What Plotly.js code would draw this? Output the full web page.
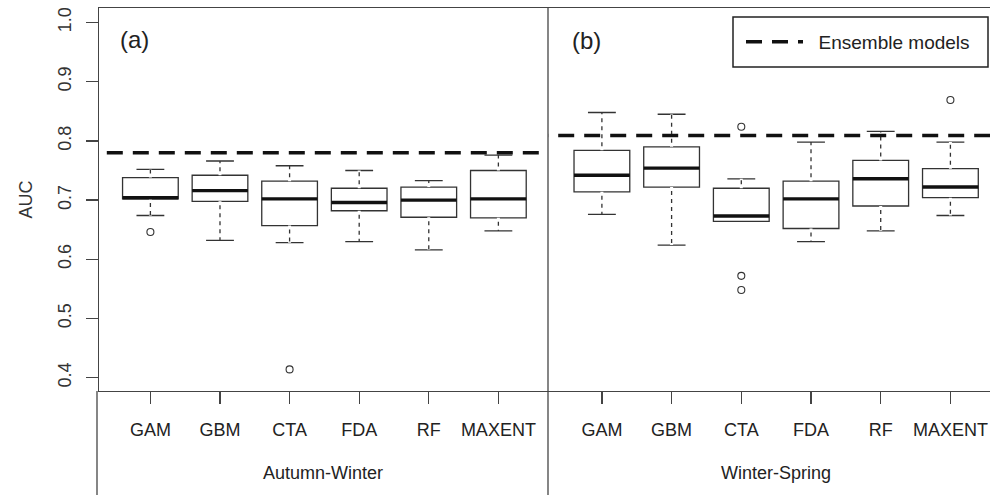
<!DOCTYPE html>
<html>
<head>
<meta charset="utf-8">
<script src="https://cdn.plot.ly/plotly-3.0.1.min.js"></script>
<style>html,body{margin:0;padding:0;background:#fff;}#chart{width:990px;height:495px;}</style>
</head>
<body>
<div id="chart"></div>
<script>
// ---- data ----
const models = ['GAM', 'GBM', 'CTA', 'FDA', 'RF', 'MAXENT'];
const seasons = ['Autumn-Winter', 'Winter-Spring'];

// Autumn-Winter (a)
const awLower  = [0.674, 0.632, 0.628, 0.630, 0.616, 0.648];
const awQ1     = [0.702, 0.698, 0.657, 0.682, 0.671, 0.670];
const awMedian = [0.704, 0.716, 0.702, 0.696, 0.700, 0.702];
const awQ3     = [0.738, 0.742, 0.732, 0.720, 0.722, 0.750];
const awUpper  = [0.752, 0.766, 0.758, 0.750, 0.733, 0.776];
const awOutModel = ['GAM', 'CTA'];
const awOutVal   = [0.646, 0.414];
const awEnsemble = 0.780;

// Winter-Spring (b)
const wsLower  = [0.676, 0.624, 0.664, 0.630, 0.648, 0.674];
const wsQ1     = [0.714, 0.722, 0.664, 0.652, 0.690, 0.704];
const wsMedian = [0.742, 0.754, 0.673, 0.702, 0.736, 0.722];
const wsQ3     = [0.784, 0.790, 0.720, 0.732, 0.767, 0.753];
const wsUpper  = [0.848, 0.845, 0.736, 0.798, 0.816, 0.798];
const wsOutModel = ['CTA', 'CTA', 'CTA', 'MAXENT'];
const wsOutVal   = [0.824, 0.572, 0.548, 0.869];
const wsEnsemble = 0.809;

const yTicks = [0.4, 0.5, 0.6, 0.7, 0.8, 0.9, 1.0];

// ---- helpers ----
const pos = models.map((m, i) => i + 1);
const HALF = 0.4;
const FONT = 'Liberation Sans, Arial, sans-serif';
const LINE = '#333';

function panel(xa, lower, q1, med, q3, upper, outModel, outVal, ens, showLeg) {
  const tr = [];
  tr.push({
    type: 'box', xaxis: xa, yaxis: 'y',
    x: pos, q1: q1, median: med, q3: q3, lowerfence: lower, upperfence: upper,
    width: 2 * HALF, whiskerwidth: 0.5, boxpoints: false,
    fillcolor: '#ffffff', line: {color: LINE, width: 1.3},
    showlegend: false, hoverinfo: 'skip'
  });
  // dashed look of whiskers (white gaps over whisker lines)
  const wx = [], wy = [];
  pos.forEach((p, i) => {
    if (upper[i] > q3[i]) { wx.push(p, p, null); wy.push(q3[i], upper[i], null); }
    if (lower[i] < q1[i]) { wx.push(p, p, null); wy.push(q1[i], lower[i], null); }
  });
  tr.push({
    type: 'scatter', mode: 'lines', xaxis: xa, yaxis: 'y', x: wx, y: wy,
    line: {color: '#ffffff', width: 3, dash: '4px,4px'},
    showlegend: false, hoverinfo: 'skip'
  });
  // thick medians
  const mx = [], my = [];
  pos.forEach((p, i) => { mx.push(p - HALF, p + HALF, null); my.push(med[i], med[i], null); });
  tr.push({
    type: 'scatter', mode: 'lines', xaxis: xa, yaxis: 'y', x: mx, y: my,
    line: {color: '#111', width: 3.4},
    showlegend: false, hoverinfo: 'skip'
  });
  // outliers
  tr.push({
    type: 'scatter', mode: 'markers', xaxis: xa, yaxis: 'y',
    x: outModel.map(m => models.indexOf(m) + 1), y: outVal,
    marker: {symbol: 'circle-open', size: 7, color: LINE, line: {width: 1.1, color: LINE}},
    showlegend: false, hoverinfo: 'skip'
  });
  // ensemble line
  tr.push({
    type: 'scatter', mode: 'lines', xaxis: xa, yaxis: 'y',
    x: [0, models.length + 1], y: [ens, ens],
    name: '\u00a0\u00a0Ensemble models',
    line: {color: '#111', width: 3.5, dash: '16px,10px'},
    showlegend: showLeg, hoverinfo: 'skip'
  });
  return tr;
}

const data = [].concat(
  panel('x', awLower, awQ1, awMedian, awQ3, awUpper, awOutModel, awOutVal, awEnsemble, true),
  panel('x2', wsLower, wsQ1, wsMedian, wsQ3, wsUpper, wsOutModel, wsOutVal, wsEnsemble, false)
);

// ---- layout geometry (pixels -> paper) ----
const W = 990, H = 495, ML = 99, MR = 0, MT = 8, MB = 104;
const PW = W - ML - MR, PH = H - MT - MB;
const px = x => (x - ML) / PW;
const py = y => (H - MB - y) / PH;
const split = px(548);

const xCommon = {
  tickvals: pos, ticktext: models, ticks: 'outside', ticklen: 12, tickwidth: 1.3, tickcolor: '#444',
  showline: true, linecolor: '#444', linewidth: 1.3, mirror: true,
  showgrid: false, zeroline: false, anchor: 'y',
  tickfont: {family: FONT, size: 18, color: '#222'}, ticklabelstandoff: 10
};

const layout = {
  width: W, height: H,
  margin: {l: ML, r: MR, t: MT, b: MB, pad: 0},
  paper_bgcolor: '#ffffff', plot_bgcolor: '#ffffff',
  font: {family: FONT, size: 18, color: '#222'},
  xaxis: Object.assign({}, xCommon, {domain: [0, split], range: [0.2615, 6.713]}),
  xaxis2: Object.assign({}, xCommon, {domain: [split, 1], range: [0.2267, 6.568]}),
  yaxis: {
    domain: [0, 1], range: [0.3775, 1.0245], anchor: 'x',
    tickvals: yTicks, tickformat: '.1f', tickangle: -90,
    ticks: 'outside', ticklen: 12, tickwidth: 1.3, tickcolor: '#444',
    showline: true, linecolor: '#444', linewidth: 1.3, mirror: false,
    showgrid: false, zeroline: false,
    tickfont: {family: FONT, size: 18, color: '#333'}, ticklabelstandoff: 8
  },
  showlegend: true,
  legend: {
    x: px(741), xanchor: 'left', y: py(42), yanchor: 'middle',
    bgcolor: 'rgba(0,0,0,0)', borderwidth: 0, itemwidth: 57,
    font: {family: FONT, size: 19, color: '#222'}
  },
  shapes: [
    {type: 'line', xref: 'paper', yref: 'paper', x0: split, x1: split, y0: py(495), y1: 1,
     line: {color: '#444', width: 1.3}},
    {type: 'line', xref: 'paper', yref: 'paper', x0: px(97), x1: px(97), y0: py(495), y1: 0,
     line: {color: '#444', width: 1.3}},
    {type: 'rect', xref: 'paper', yref: 'paper', x0: px(733), x1: px(988), y0: py(67), y1: py(17),
     line: {color: '#222', width: 1.5}, fillcolor: 'rgba(0,0,0,0)'}
  ],
  annotations: [
    {text: 'AUC', xref: 'paper', yref: 'paper', x: px(25), y: 0.5, textangle: -90, showarrow: false,
     xanchor: 'center', yanchor: 'middle', font: {family: FONT, size: 18, color: '#333'}},
    {text: '(a)', xref: 'paper', yref: 'paper', x: px(134), y: py(40), showarrow: false,
     xanchor: 'center', yanchor: 'middle', font: {family: FONT, size: 24, color: '#222'}},
    {text: '(b)', xref: 'paper', yref: 'paper', x: px(586), y: py(41), showarrow: false,
     xanchor: 'center', yanchor: 'middle', font: {family: FONT, size: 24, color: '#222'}},
    {text: seasons[0], xref: 'paper', yref: 'paper', x: px(323), y: py(473), showarrow: false,
     xanchor: 'center', yanchor: 'middle', font: {family: FONT, size: 18, color: '#222'}},
    {text: seasons[1], xref: 'paper', yref: 'paper', x: px(776), y: py(473), showarrow: false,
     xanchor: 'center', yanchor: 'middle', font: {family: FONT, size: 18, color: '#222'}}
  ]
};

Plotly.newPlot('chart', data, layout, {staticPlot: true, displayModeBar: false});
</script>
</body>
</html>
